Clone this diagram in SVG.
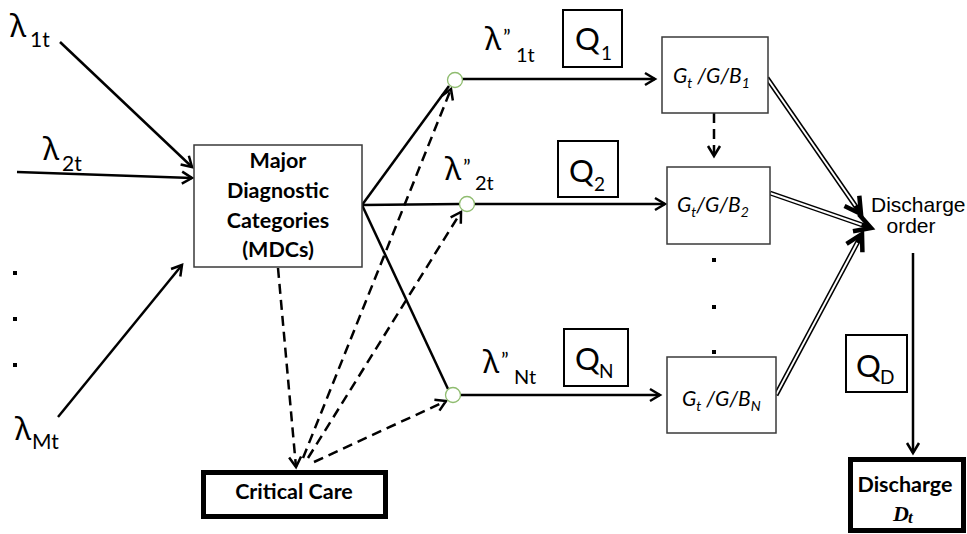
<svg xmlns="http://www.w3.org/2000/svg" width="967" height="534" viewBox="0 0 967 534">
<style>
 .box{fill:#fff;stroke:#3a3a3a;stroke-width:1.5}
 .qbox{fill:none;stroke:#000;stroke-width:2}
 .thick{fill:#fff;stroke:#000;stroke-width:5}
 .ln{stroke:#000;stroke-width:2.5;fill:none}
 .dash{stroke:#000;stroke-width:2.5;fill:none;stroke-dasharray:10 6}
 .dblo{stroke:#000;stroke-width:5;fill:none}
 .dbli{stroke:#fff;stroke-width:2;fill:none}
 .node{fill:#fff;stroke:#8fbc6f;stroke-width:1.3}
 .t{font-family:Lato,'Noto Sans',sans-serif;fill:#000}
 .lam{font-family:'Noto Sans','DejaVu Sans',sans-serif}
 .b{font-weight:bold;font-size:21.5px}
 .g{font-family:Lato,'Noto Sans',sans-serif;font-style:italic;font-size:21px;fill:#000}
 .arial{font-family:'Liberation Sans',Arial,sans-serif;font-size:21px;fill:#000}
 .dot{fill:#000}
 .mk{fill:none;stroke:#000;stroke-width:2.5;stroke-linejoin:miter}
 .mkd{fill:none;stroke:#000;stroke-width:4.5;stroke-linejoin:miter}
</style>
<defs>
 <marker id="ah" markerUnits="userSpaceOnUse" orient="auto" refX="0" refY="0" markerWidth="24" markerHeight="24" overflow="visible">
  <path class="mk" d="M-10,-6 L0,0 L-10,6"/>
 </marker>
 <marker id="ahd" markerUnits="userSpaceOnUse" orient="auto" refX="-3" refY="0" markerWidth="30" markerHeight="30" overflow="visible">
  <path class="mkd" d="M-16,-9 L0,0 L-16,9"/>
 </marker>
</defs>

<g id="connectors">
 <line class="ln" x1="60" y1="42" x2="192" y2="167" marker-end="url(#ah)"/>
 <line class="ln" x1="17" y1="172" x2="192" y2="178" marker-end="url(#ah)"/>
 <line class="ln" x1="58" y1="417" x2="182" y2="265" marker-end="url(#ah)"/>
 <line class="ln" x1="362" y1="205" x2="449" y2="86"/>
 <line class="ln" x1="362" y1="205" x2="460" y2="204"/>
 <line class="ln" x1="362" y1="205" x2="448" y2="389"/>
 <line class="ln" x1="462" y1="79" x2="655" y2="79" marker-end="url(#ah)"/>
 <line class="ln" x1="474" y1="204" x2="665" y2="204" marker-end="url(#ah)"/>
 <line class="ln" x1="460" y1="395" x2="660" y2="395" marker-end="url(#ah)"/>
 <line class="dash" x1="278" y1="268" x2="296" y2="467" marker-end="url(#ah)"/>
 <line class="dash" x1="303" y1="458" x2="451" y2="89" marker-end="url(#ah)"/>
 <line class="dash" x1="308" y1="458" x2="461" y2="212" marker-end="url(#ah)"/>
 <line class="dash" x1="314" y1="462" x2="446" y2="401" marker-end="url(#ah)"/>
 <line class="dash" x1="714" y1="113" x2="714" y2="156" marker-end="url(#ah)"/>
 <line class="dblo" x1="767" y1="78" x2="859.3" y2="211.5" marker-end="url(#ahd)"/>
 <line class="dbli" x1="767.5" y1="78.7" x2="855.3" y2="205.8"/>
 <line class="dblo" x1="770" y1="193" x2="868.2" y2="227" marker-end="url(#ahd)"/>
 <line class="dbli" x1="770.5" y1="193.2" x2="861.6" y2="224.7"/>
 <line class="dblo" x1="776" y1="395" x2="860.6" y2="236.6" marker-end="url(#ahd)"/>
 <line class="dbli" x1="776.3" y1="394.4" x2="857.3" y2="242.8"/>
 <line class="ln" x1="913" y1="253" x2="913" y2="453" marker-end="url(#ah)"/>
</g>

<g id="inputs">
 <text class="t" x="10" y="37"><tspan class="lam" font-size="31">λ</tspan><tspan x="30" y="47" font-size="21">1t</tspan></text>
 <text class="t" x="43" y="160"><tspan class="lam" font-size="31">λ</tspan><tspan x="62" y="171" font-size="21">2t</tspan></text>
 <text class="t" x="15" y="440"><tspan class="lam" font-size="31">λ</tspan><tspan x="32" y="449" font-size="21">Mt</tspan></text>
 <rect class="dot" x="13" y="271" width="4" height="4"/>
 <rect class="dot" x="13" y="317" width="4" height="4"/>
 <rect class="dot" x="13" y="363" width="4" height="4"/>
</g>

<g id="mdc">
 <rect class="box" x="194" y="145" width="168" height="122"/>
 <text class="t b" x="278" y="168" text-anchor="middle">Major</text>
 <text class="t b" x="278" y="198" text-anchor="middle">Diagnostic</text>
 <text class="t b" x="278" y="228" text-anchor="middle">Categories</text>
 <text class="t b" x="278" y="257" text-anchor="middle">(MDCs)</text>
</g>

<g id="critical-care">
 <rect class="thick" x="203.5" y="472.5" width="182" height="44"/>
 <text class="t b" x="294" y="499" text-anchor="middle" font-size="22.5">Critical Care</text>
</g>

<g id="split-1">
 <circle class="node" cx="455" cy="80" r="7.5"/>
 <text class="t" x="485" y="50"><tspan class="lam" font-size="31">λ</tspan><tspan x="503" y="45" font-size="21">”</tspan><tspan x="516" y="62" font-size="20">1t</tspan></text>
</g>
<g id="split-2">
 <circle class="node" cx="467" cy="204" r="7.5"/>
 <text class="t" x="445" y="180"><tspan class="lam" font-size="31">λ</tspan><tspan x="463" y="175" font-size="21">”</tspan><tspan x="475" y="190" font-size="20">2t</tspan></text>
</g>
<g id="split-n">
 <circle class="node" cx="453" cy="395" r="7.5"/>
 <text class="t" x="483" y="373"><tspan class="lam" font-size="31">λ</tspan><tspan x="501" y="368" font-size="21">”</tspan><tspan x="514" y="384" font-size="20">Nt</tspan></text>
</g>

<g id="q1">
 <rect class="qbox" x="563" y="10" width="59" height="57"/>
 <text class="t" x="575" y="50" font-size="31">Q<tspan x="601" y="60" font-size="19">1</tspan></text>
</g>
<g id="q2">
 <rect class="qbox" x="558" y="141" width="60" height="56"/>
 <text class="t" x="569" y="182" font-size="31">Q<tspan x="594" y="191" font-size="19">2</tspan></text>
</g>
<g id="qn">
 <rect class="qbox" x="564" y="329" width="64" height="57"/>
 <text class="t" x="575" y="370" font-size="31">Q<tspan x="599" y="378" font-size="19">N</tspan></text>
</g>
<g id="qd">
 <rect class="qbox" x="846" y="335" width="61" height="57"/>
 <text class="t" x="856" y="377" font-size="31">Q<tspan x="880" y="384" font-size="19">D</tspan></text>
</g>

<g id="server-1">
 <rect class="box" x="662" y="37" width="106" height="76"/>
 <text class="g" x="673" y="83">G<tspan font-size="14" dy="5">t</tspan><tspan dy="-5"> /G/B</tspan><tspan font-size="14" dy="5">1</tspan></text>
</g>
<g id="server-2">
 <rect class="box" x="667" y="167" width="103" height="77"/>
 <text class="g" x="677" y="212">G<tspan font-size="14" dy="5">t</tspan><tspan dy="-5">/G/B</tspan><tspan font-size="14" dy="5">2</tspan></text>
</g>
<g id="server-n">
 <rect class="box" x="667" y="357" width="109" height="76"/>
 <text class="g" x="682" y="406">G<tspan font-size="14" dy="5">t</tspan><tspan dy="-5"> /G/B</tspan><tspan font-size="14" dy="5">N</tspan></text>
</g>
<g id="server-dots">
 <rect class="dot" x="712" y="258" width="4" height="4"/>
 <rect class="dot" x="712" y="305" width="4" height="4"/>
 <rect class="dot" x="712" y="350" width="4" height="4"/>
</g>

<g id="discharge-order">
 <text class="arial" x="871" y="212">Discharge</text>
 <text class="arial" x="911" y="233" text-anchor="middle">order</text>
</g>

<g id="discharge">
 <rect class="thick" x="850.5" y="459.5" width="113" height="71"/>
 <text class="t b" x="905" y="492" text-anchor="middle" font-size="22.5">Discharge</text>
 <text x="893" y="521" font-family="'Liberation Serif','DejaVu Serif',serif" font-weight="bold" font-style="italic" font-size="22">D<tspan x="908" y="523" font-size="17">t</tspan></text>
</g>
</svg>
